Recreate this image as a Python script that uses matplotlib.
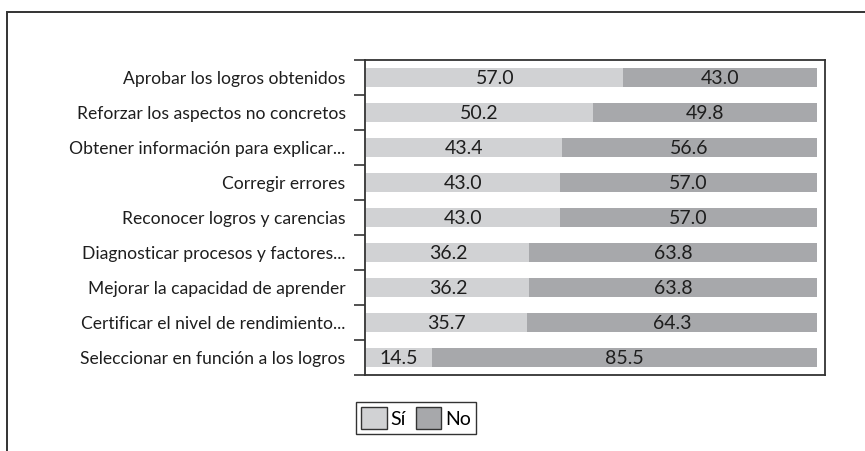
import matplotlib
matplotlib.use("Agg")
from matplotlib import pyplot as plt
from matplotlib.patches import Rectangle, Patch

plt.rcParams['font.family'] = ['Lato', 'DejaVu Sans']

categorias = [
    "Aprobar los logros obtenidos",
    "Reforzar los aspectos no concretos",
    "Obtener información para explicar...",
    "Corregir errores",
    "Reconocer logros y carencias",
    "Diagnosticar procesos y factores...",
    "Mejorar la capacidad de aprender",
    "Certificar el nivel de rendimiento...",
    "Seleccionar en función a los logros",
]
si = [57.0, 50.2, 43.4, 43.0, 43.0, 36.2, 36.2, 35.7, 14.5]
no = [43.0, 49.8, 56.6, 57.0, 57.0, 63.8, 63.8, 64.3, 85.5]

c_si = '#d1d2d4'
c_no = '#a7a8ab'
c_line = '#333333'

fig = plt.figure(figsize=(8.65, 4.51), dpi=100)
# marco exterior (solo se ven borde izquierdo y superior)
fig.patches.append(Rectangle((7 / 865, -0.1), 1.2, 1 - 12 / 451 + 0.1,
                             transform=fig.transFigure, fill=False,
                             edgecolor=c_line, linewidth=1.4))

ax = fig.add_axes([365 / 865, 1 - 375 / 451, 460 / 865, 315 / 451])
y = list(range(len(categorias)))
b1 = ax.barh(y, si, height=0.56, color=c_si)
b2 = ax.barh(y, no, left=si, height=0.56, color=c_no)

for i in y:
    ax.text(si[i] / 2, i + 0.03, f"{si[i]:.1f}", ha='center', va='center', fontsize=14, color='#1e1e1e')
    ax.text(si[i] + no[i] / 2, i + 0.03, f"{no[i]:.1f}", ha='center', va='center', fontsize=14, color='#1e1e1e')

ax.set_xlim(-0.3, 101.8)
ax.set_ylim(len(categorias) - 0.5, -0.5)
ax.set_xticks([])
ax.set_yticks(y)
ax.set_yticklabels(categorias, fontsize=12.6, color='#1e1e1e')
ax.tick_params(axis='y', which='major', length=0, pad=14)
ax.set_yticks([i - 0.5 for i in range(len(categorias) + 1)], minor=True)
ax.tick_params(axis='y', which='minor', length=8, width=1.2, color=c_line)
for s in ax.spines.values():
    s.set_color(c_line)
    s.set_linewidth(1.3)

fig.legend(handles=[Patch(facecolor=c_si, edgecolor=c_line, label='Sí'),
                    Patch(facecolor=c_no, edgecolor=c_line, label='No')],
           loc='center', bbox_to_anchor=(416 / 865, 1 - 418 / 451), ncol=2,
           fancybox=False, edgecolor=c_line, framealpha=1, fontsize=14,
           handlelength=1.3, handleheight=1.3, handletextpad=0.2,
           columnspacing=0.5, borderpad=0.3, borderaxespad=0)

fig.savefig('out.png', dpi=100)
